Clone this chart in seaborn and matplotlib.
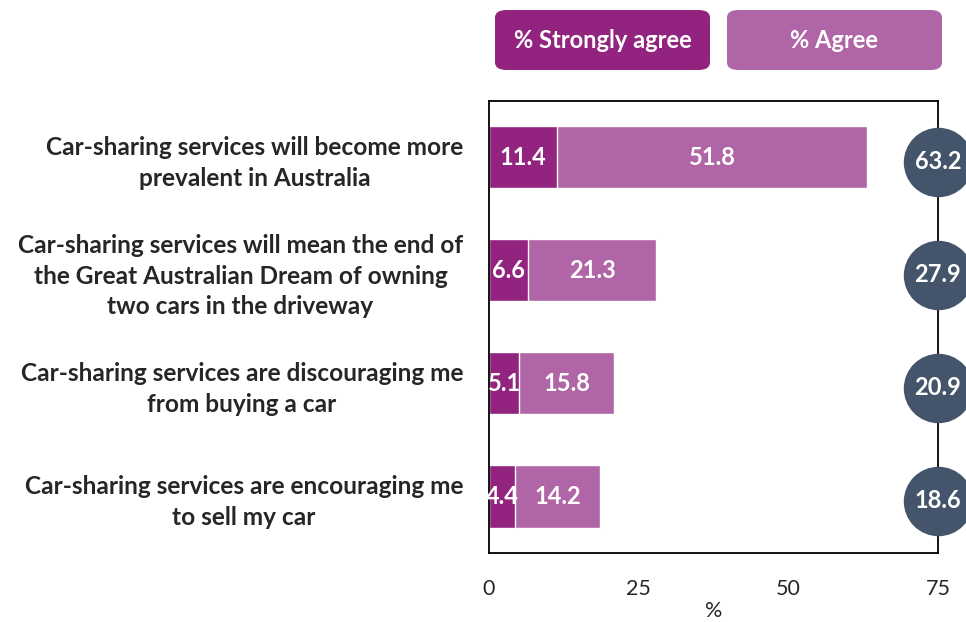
import matplotlib
matplotlib.use("Agg")
import matplotlib.pyplot as plt
from matplotlib.patches import FancyBboxPatch
from matplotlib.transforms import ScaledTranslation
import seaborn as sns
import pandas as pd

statements = [
    "Car-sharing services will become more\nprevalent in Australia",
    "Car-sharing services will mean the end of\nthe Great Australian Dream of owning\ntwo cars in the driveway",
    "Car-sharing services are discouraging me\nfrom buying a car",
    "Car-sharing services are encouraging me\nto sell my car",
]
strongly_agree = [11.4, 6.6, 5.1, 4.4]
agree = [51.8, 21.3, 15.8, 14.2]
x_ticks = [0, 25, 50, 75]

C_STRONG = "#92237E"
C_AGREE = "#B066A6"
C_TOTAL = "#44546A"
FS = 17

sns.set_theme(style="white")
plt.rcParams["font.family"] = ["Lato", "DejaVu Sans"]

df = pd.DataFrame({"statement": statements, "strong": strongly_agree, "agree": agree})
df["total"] = df["strong"] + df["agree"]

fig = plt.figure(figsize=(9.66, 6.22), dpi=100)
ax = fig.add_axes([0.506, 0.111, 0.465, 0.727])

# Total bar (agree colour) with the strongly-agree segment on top of it
sns.barplot(data=df, x="total", y="statement", color=C_AGREE, width=0.55,
            orient="h", ax=ax, saturation=1)
sns.barplot(data=df, x="strong", y="statement", color=C_STRONG, width=0.55,
            orient="h", ax=ax, saturation=1)

for i, row in df.iterrows():
    ax.text(row["strong"] / 2, i, f"{row['strong']:.1f}", ha="center", va="center",
            color="white", fontsize=FS, fontweight="bold")
    ax.text(row["strong"] + row["agree"] / 2, i, f"{row['agree']:.1f}", ha="center",
            va="center", color="white", fontsize=FS, fontweight="bold")

# Total circles sitting on the right edge of the plot, nudged slightly down
nudge = ax.transData + ScaledTranslation(0, -0.045, fig.dpi_scale_trans)
ax.scatter([75] * len(df), range(len(df)), s=2500, color=C_TOTAL, zorder=5,
           clip_on=False, linewidths=0, transform=nudge)
for i, row in df.iterrows():
    ax.text(75, i, f"{row['total']:.1f}", ha="center", va="center", color="white",
            fontsize=FS, fontweight="bold", zorder=6, clip_on=False, transform=nudge)

ax.set_xlim(0, 75)
ax.set_ylim(3.5, -0.5)
ax.set_xticks(x_ticks)
ax.set_xticklabels([str(t) for t in x_ticks], fontsize=15.5)
ax.tick_params(axis="x", length=0, pad=19)
ax.tick_params(axis="y", length=0, pad=18.5)
ax.set_yticks(range(len(df)))
ax.set_yticklabels(statements, fontsize=17.6, fontweight="bold", ha="right",
                   linespacing=1.4)
for lab in ax.get_yticklabels():
    lab.set_multialignment("center")
ax.set_ylabel("")
ax.set_xlabel("%", fontsize=15.5, labelpad=1)
for sp in ax.spines.values():
    sp.set_visible(True)
    sp.set_color("black")
    sp.set_linewidth(1.3)

# Legend as rounded colour tiles
W, H = 966, 622
for (x0, x1, label, col) in [(495, 710, "% Strongly agree", C_STRONG),
                             (727, 942, "% Agree", C_AGREE)]:
    box = FancyBboxPatch((x0 / W, 1 - 70 / H), (x1 - x0) / W, 60 / H,
                         boxstyle="round,pad=0,rounding_size=0.012",
                         transform=fig.transFigure, facecolor=col, edgecolor="none")
    fig.patches.append(box)
    fig.text((x0 + x1) / 2 / W, 1 - 41 / H, label, ha="center", va="center",
             color="white", fontsize=FS, fontweight="bold")

fig.savefig("out.png", dpi=100)
